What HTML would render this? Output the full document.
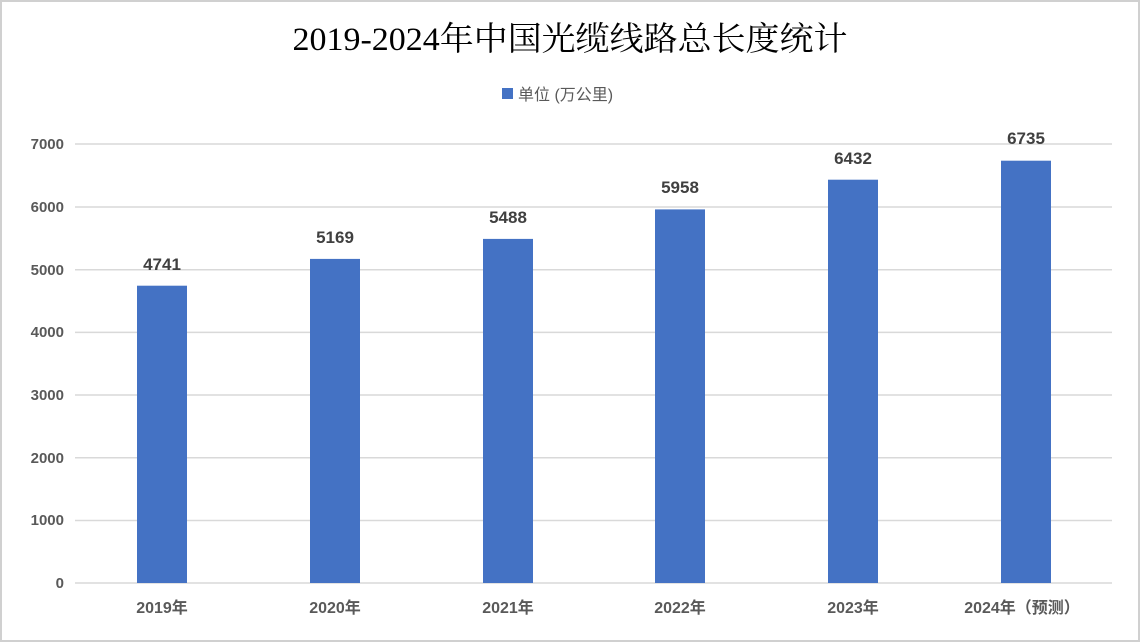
<!DOCTYPE html>
<html><head><meta charset="utf-8"><style>
body{margin:0;background:#fff}
svg{display:block}
</style></head><body>
<svg width="1140" height="642" xmlns="http://www.w3.org/2000/svg">
<rect x="1" y="1" width="1138" height="640" fill="#fff" stroke="#d0d0d0" stroke-width="2"/>
<text x="570" y="50" text-anchor="middle" font-family="'Liberation Serif','Noto Serif CJK SC',serif" font-size="33" fill="#000" textLength="555" lengthAdjust="spacingAndGlyphs">2019-2024年中国光缆线路总长度统计</text>
<rect x="502" y="88" width="11" height="11" fill="#4472c4"/>
<text x="518" y="100" font-family="'Liberation Sans','Noto Sans CJK SC',sans-serif" font-size="16" fill="#595959">单位 (万公里)</text>
<g stroke="#d9d9d9" stroke-width="1.5">
<line x1="75" x2="1112" y1="144" y2="144"/><line x1="75" x2="1112" y1="207" y2="207"/>
<line x1="75" x2="1112" y1="269.7" y2="269.7"/><line x1="75" x2="1112" y1="332.4" y2="332.4"/>
<line x1="75" x2="1112" y1="395" y2="395"/><line x1="75" x2="1112" y1="457.8" y2="457.8"/>
<line x1="75" x2="1112" y1="520.5" y2="520.5"/><line x1="75" x2="1112" y1="583" y2="583"/>
</g>
<g font-family="'Liberation Sans','Noto Sans CJK SC',sans-serif" font-size="15" font-weight="bold" fill="#595959" text-anchor="end">
<text x="64" y="149">7000</text><text x="64" y="212">6000</text><text x="64" y="275">5000</text>
<text x="64" y="337">4000</text><text x="64" y="400">3000</text><text x="64" y="463">2000</text>
<text x="64" y="525">1000</text><text x="64" y="588">0</text>
</g>
<g fill="#4472c4">
<rect x="137" y="285.7" width="50" height="297.3"/>
<rect x="310" y="258.9" width="50" height="324.1"/>
<rect x="483" y="238.9" width="50" height="344.1"/>
<rect x="655" y="209.4" width="50" height="373.6"/>
<rect x="828" y="179.7" width="50" height="403.3"/>
<rect x="1001" y="160.7" width="50" height="422.3"/>
</g>
<g font-family="'Liberation Sans','Noto Sans CJK SC',sans-serif" font-size="17" font-weight="bold" fill="#404040" text-anchor="middle">
<text x="162" y="270">4741</text><text x="335" y="243">5169</text><text x="508" y="223">5488</text>
<text x="680" y="193">5958</text><text x="853" y="164">6432</text><text x="1026" y="144">6735</text>
</g>
<g font-family="'Liberation Sans','Noto Sans CJK SC',sans-serif" font-size="16" font-weight="bold" fill="#595959" text-anchor="middle">
<text x="162" y="613">2019年</text><text x="335" y="613">2020年</text><text x="508" y="613">2021年</text>
<text x="680" y="613">2022年</text><text x="853" y="613">2023年</text><text x="1022" y="613">2024年（预测）</text>
</g>
</svg>
</body></html>
